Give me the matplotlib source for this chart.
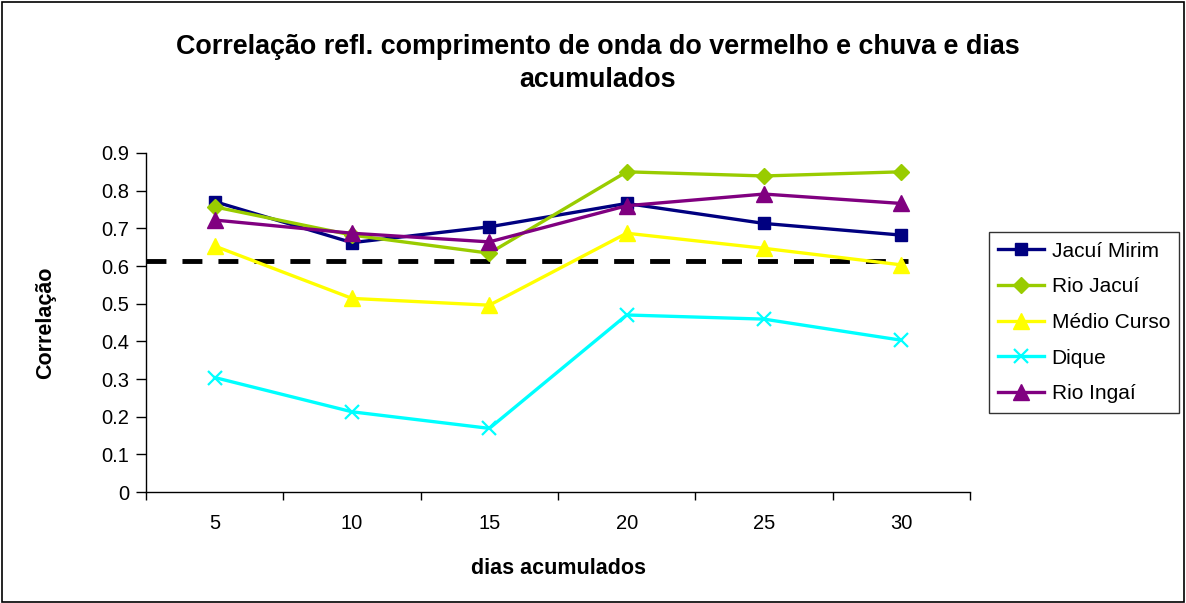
import matplotlib

matplotlib.use("Agg")
import matplotlib.pyplot as plt
from matplotlib.patches import Rectangle

plt.rcParams["font.family"] = ["Liberation Sans", "DejaVu Sans"]

dias = ["5", "10", "15", "20", "25", "30"]
jacui_mirim = [0.771, 0.662, 0.704, 0.766, 0.713, 0.682]
rio_jacui = [0.757, 0.682, 0.634, 0.850, 0.839, 0.850]
medio_curso = [0.653, 0.514, 0.496, 0.687, 0.647, 0.603]
dique = [0.304, 0.213, 0.169, 0.470, 0.459, 0.403]
rio_ingai = [0.722, 0.687, 0.664, 0.760, 0.791, 0.766]
limiar = 0.614
y_ticks = [0, 0.1, 0.2, 0.3, 0.4, 0.5, 0.6, 0.7, 0.8, 0.9]

series = [
    ("Jacuí Mirim", jacui_mirim, "#000080", "s", 9),
    ("Rio Jacuí", rio_jacui, "#99CC00", "D", 8),
    ("Médio Curso", medio_curso, "#FFFF00", "^", 12),
    ("Dique", dique, "#00FFFF", "x", 10),
    ("Rio Ingaí", rio_ingai, "#800080", "^", 12),
]

fig = plt.figure(figsize=(11.86, 6.03), dpi=100)
fig.patches.append(Rectangle((0.002, 0.002), 0.996, 0.995, transform=fig.transFigure,
                             fill=False, edgecolor="black", linewidth=1.2))
ax = fig.add_axes([0.1231, 0.184, 0.6948, 0.5623])

x = list(range(len(dias)))
ax.plot([-0.5, len(dias) - 0.95], [limiar, limiar], color="black", linestyle=(0, (4.1, 3.3)),
        linewidth=3.5, zorder=1)
for name, vals, color, marker, ms in series:
    ax.plot(x, vals, color=color, marker=marker, markersize=ms, linewidth=2.4,
            markeredgewidth=1.6 if marker == "x" else 1, label=name, zorder=2)

ax.set_xlim(-0.5, len(dias) - 0.5)
ax.set_ylim(0, 0.9)
ax.set_yticks(y_ticks)
ax.set_yticklabels([f"{t:g}" for t in y_ticks], fontsize=14.5)
ax.set_xticks(x)
ax.set_xticklabels(dias, fontsize=14.5)
ax.set_xticks([i - 0.5 for i in range(len(dias) + 1)], minor=True)
ax.tick_params(axis="x", which="major", length=0, pad=16)
ax.tick_params(axis="x", which="minor", length=6, width=1, direction="out")
ax.tick_params(axis="y", length=7, width=1, direction="out", pad=5)
ax.spines["top"].set_visible(False)
ax.spines["right"].set_visible(False)
ax.spines["left"].set_linewidth(1)
ax.spines["bottom"].set_linewidth(1)

ax.set_xlabel("dias acumulados", fontsize=15.5, fontweight="bold", va="center")
ax.xaxis.set_label_coords(0.5, -0.225)
ax.set_ylabel("Correlação", fontsize=15.5, fontweight="bold", va="center")
ax.yaxis.set_label_coords(-0.122, 0.5)

fig.text(0.504, 0.895, "Correlação refl. comprimento de onda do vermelho e chuva e dias\nacumulados",
         ha="center", va="center", fontsize=19.4, fontweight="bold", linespacing=1.33)

leg = fig.legend(loc="upper left", bbox_to_anchor=(0.834, 0.615), fontsize=15, frameon=True,
                 fancybox=False, edgecolor="black", handlelength=2.2, borderpad=0.45,
                 labelspacing=0.8, handletextpad=0.35, borderaxespad=0)
leg.get_frame().set_linewidth(1)

fig.savefig("out.png", dpi=100)
